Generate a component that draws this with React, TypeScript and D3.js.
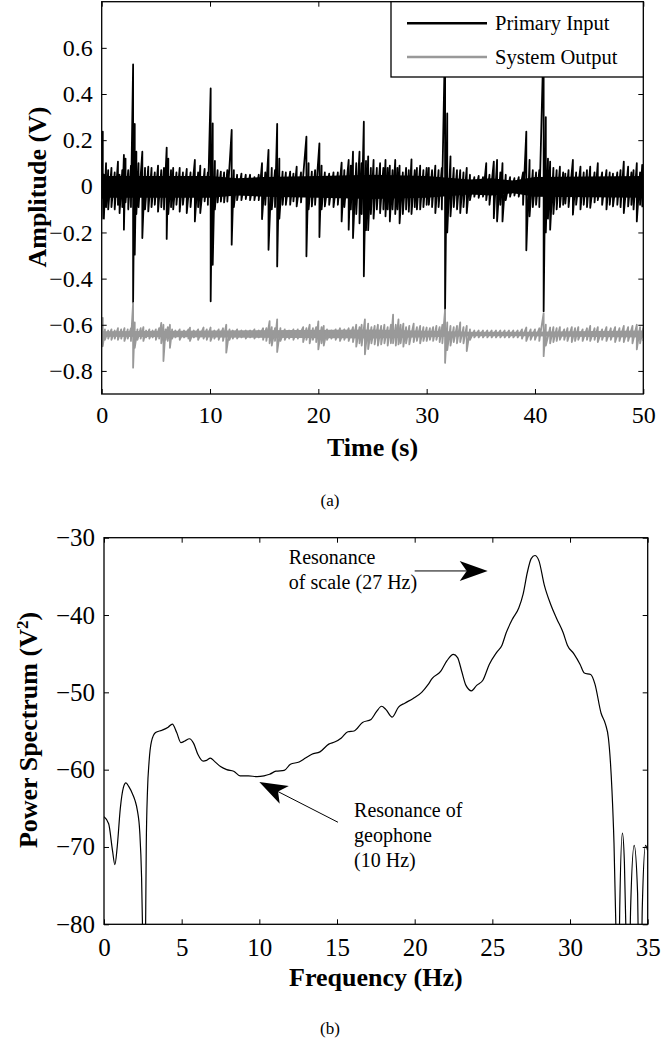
import React, { useRef, useEffect } from "react";
import * as d3 from "d3";

// ---------- panel (a): time series ----------
// each entry: [time (s), upper excursion (V), lower excursion (V)]
const primaryInput: [number, number, number][] = [
  [0.0, 0.1, -0.14], [0.1, 0.237, -0.05], [0.2, 0.05, -0.14], [0.4, 0.1, -0.09],
  [0.6, 0.07, -0.1], [0.9, 0.08, -0.09], [1.2, 0.06, -0.1], [1.5, 0.107, -0.08],
  [1.65, 0.05, -0.116], [1.9, 0.07, -0.09], [2.05, 0.136, -0.188], [2.2, 0.12, -0.07],
  [2.45, 0.07, -0.1], [2.7, 0.09, -0.09], [2.9, 0.528, -0.505], [3.05, 0.27, -0.296],
  [3.2, 0.15, -0.12], [3.4, 0.1, -0.09], [3.75, 0.15, -0.224], [4.0, 0.08, -0.1],
  [4.3, 0.085, -0.109], [4.6, 0.08, -0.09], [4.9, 0.06, -0.08], [5.2, 0.09, -0.11],
  [5.5, 0.07, -0.09], [5.75, 0.08, -0.1], [6.0, 0.168, -0.228], [6.15, 0.12, -0.12],
  [6.4, 0.07, -0.09], [6.6, 0.08, -0.1], [6.9, 0.06, -0.08], [7.2, 0.08, -0.11],
  [7.5, 0.06, -0.08], [7.85, 0.075, -0.116], [8.2, 0.06, -0.09], [8.6, 0.114, -0.152],
  [8.9, 0.06, -0.09], [9.1, 0.09, -0.116], [9.5, 0.075, -0.065], [9.8, 0.06, -0.08],
  [10.06, 0.424, -0.498], [10.25, 0.273, -0.34], [10.45, 0.11, -0.1], [10.7, 0.07, -0.07],
  [11.0, 0.064, -0.066], [11.3, 0.06, -0.07], [11.6, 0.07, -0.066], [12.0, 0.244, -0.253],
  [12.2, 0.07, -0.09], [12.5, 0.05, -0.06], [12.9, 0.055, -0.06], [13.3, 0.05, -0.055],
  [13.7, 0.05, -0.06], [14.1, 0.04, -0.06], [14.5, 0.05, -0.06], [14.8, 0.1, -0.142],
  [15.1, 0.06, -0.08], [15.4, 0.158, -0.275], [15.7, 0.08, -0.1], [16.0, 0.07, -0.09],
  [16.2, 0.27, -0.347], [16.4, 0.12, -0.14], [16.7, 0.064, -0.08], [17.0, 0.06, -0.08],
  [17.4, 0.064, -0.08], [17.7, 0.055, -0.065], [18.0, 0.085, -0.087], [18.4, 0.06, -0.07],
  [18.9, 0.215, -0.303], [19.1, 0.1, -0.1], [19.4, 0.064, -0.087], [19.7, 0.07, -0.08],
  [20.1, 0.186, -0.22], [20.3, 0.09, -0.1], [20.6, 0.06, -0.087], [21.0, 0.055, -0.08],
  [21.4, 0.06, -0.09], [21.8, 0.06, -0.08], [22.15, 0.103, -0.152], [22.4, 0.07, -0.09],
  [22.8, 0.114, -0.188], [23.0, 0.09, -0.1], [23.2, 0.15, -0.224], [23.5, 0.1, -0.12],
  [23.8, 0.15, -0.16], [24.0, 0.1, -0.12], [24.2, 0.28, -0.39], [24.4, 0.11, -0.19],
  [24.6, 0.13, -0.19], [24.85, 0.08, -0.12], [25.1, 0.114, -0.14], [25.4, 0.08, -0.1],
  [25.7, 0.1, -0.116], [26.0, 0.08, -0.1], [26.2, 0.114, -0.13], [26.4, 0.08, -0.1],
  [26.6, 0.09, -0.152], [26.85, 0.07, -0.1], [27.1, 0.114, -0.12], [27.3, 0.08, -0.1],
  [27.5, 0.09, -0.16], [27.8, 0.06, -0.12], [28.1, 0.08, -0.1], [28.35, 0.07, -0.11],
  [28.6, 0.117, -0.12], [28.9, 0.07, -0.09], [29.1, 0.08, -0.1], [29.4, 0.09, -0.1],
  [29.7, 0.07, -0.09], [30.0, 0.08, -0.08], [30.2, 0.08, -0.08], [30.5, 0.07, -0.09],
  [30.8, 0.09, -0.116], [31.1, 0.07, -0.09], [31.4, 0.08, -0.1], [31.7, 0.65, -0.534],
  [31.9, 0.316, -0.2], [32.2, 0.13, -0.13], [32.5, 0.08, -0.09], [32.8, 0.07, -0.1],
  [33.1, 0.07, -0.116], [33.4, 0.06, -0.09], [33.7, 0.08, -0.116], [34.0, 0.05, -0.06],
  [34.4, 0.04, -0.045], [34.8, 0.045, -0.05], [35.2, 0.04, -0.045], [35.5, 0.1, -0.06],
  [35.8, 0.05, -0.08], [36.2, 0.107, -0.138], [36.5, 0.114, -0.152], [36.8, 0.06, -0.08],
  [37.0, 0.1, -0.152], [37.3, 0.05, -0.06], [37.7, 0.04, -0.045], [38.1, 0.035, -0.04],
  [38.5, 0.04, -0.045], [38.9, 0.06, -0.08], [39.2, 0.237, -0.277], [39.5, 0.114, -0.13],
  [39.8, 0.07, -0.09], [40.1, 0.06, -0.08], [40.4, 0.07, -0.09], [40.8, 0.65, -0.541],
  [41.0, 0.3, -0.2], [41.2, 0.12, -0.14], [41.4, 0.107, -0.188], [41.7, 0.08, -0.12],
  [42.0, 0.07, -0.1], [42.3, 0.085, -0.09], [42.6, 0.06, -0.08], [42.8, 0.055, -0.075],
  [43.1, 0.07, -0.09], [43.5, 0.114, -0.123], [43.8, 0.06, -0.08], [44.2, 0.085, -0.1],
  [44.5, 0.06, -0.08], [44.8, 0.07, -0.09], [45.1, 0.085, -0.093], [45.5, 0.06, -0.07],
  [45.8, 0.1, -0.06], [46.2, 0.06, -0.08], [46.6, 0.07, -0.1], [46.9, 0.06, -0.08],
  [47.2, 0.055, -0.087], [47.6, 0.06, -0.08], [47.9, 0.07, -0.09], [48.2, 0.107, -0.116],
  [48.6, 0.085, -0.087], [48.9, 0.06, -0.08], [49.1, 0.07, -0.1], [49.4, 0.1, -0.152],
  [49.7, 0.06, -0.08], [49.9, 0.093, -0.087], [50.0, 0.05, -0.06],
];

const systemOutput: [number, number, number][] = [
  [0.0, -0.6, -0.69], [0.1, -0.57, -0.693], [0.3, -0.62, -0.665], [0.6, -0.625, -0.66],
  [0.9, -0.62, -0.665], [1.2, -0.625, -0.66], [1.5, -0.615, -0.665], [1.8, -0.62, -0.66],
  [2.1, -0.615, -0.67], [2.4, -0.62, -0.66], [2.7, -0.615, -0.67], [2.9, -0.505, -0.786],
  [3.05, -0.59, -0.7], [3.3, -0.62, -0.665], [3.6, -0.615, -0.66], [3.85, -0.61, -0.67],
  [4.1, -0.625, -0.655], [4.4, -0.62, -0.66], [4.7, -0.625, -0.655], [5.0, -0.62, -0.665],
  [5.3, -0.615, -0.66], [5.5, -0.592, -0.68], [5.7, -0.6, -0.757], [5.9, -0.62, -0.665],
  [6.1, -0.61, -0.67], [6.3, -0.6, -0.7], [6.5, -0.62, -0.66], [6.8, -0.625, -0.655],
  [7.2, -0.62, -0.665], [7.6, -0.625, -0.655], [8.0, -0.62, -0.66], [8.15, -0.612, -0.67],
  [8.5, -0.625, -0.655], [8.9, -0.62, -0.665], [9.4, -0.612, -0.66], [9.7, -0.62, -0.665],
  [10.05, -0.612, -0.67], [10.4, -0.625, -0.66], [10.8, -0.62, -0.665], [11.2, -0.615, -0.67],
  [11.5, -0.6, -0.721], [11.8, -0.62, -0.665], [12.1, -0.625, -0.66], [12.5, -0.62, -0.66],
  [12.9, -0.625, -0.655], [13.3, -0.625, -0.66], [13.7, -0.625, -0.655], [14.1, -0.62, -0.66],
  [14.5, -0.625, -0.655], [14.9, -0.615, -0.665], [15.2, -0.615, -0.67], [15.5, -0.584, -0.68],
  [15.7, -0.61, -0.69], [16.0, -0.615, -0.67], [16.2, -0.577, -0.718], [16.5, -0.615, -0.67],
  [16.9, -0.62, -0.665], [17.3, -0.625, -0.66], [17.7, -0.62, -0.665], [18.1, -0.62, -0.66],
  [18.6, -0.61, -0.675], [18.9, -0.615, -0.665], [19.2, -0.6, -0.68], [19.5, -0.615, -0.665],
  [19.8, -0.61, -0.675], [20.0, -0.585, -0.707], [20.3, -0.61, -0.68], [20.5, -0.605, -0.69],
  [20.8, -0.62, -0.665], [21.2, -0.625, -0.66], [21.6, -0.62, -0.665], [22.0, -0.615, -0.67],
  [22.4, -0.62, -0.665], [22.8, -0.615, -0.67], [23.2, -0.61, -0.675], [23.5, -0.6, -0.695],
  [23.8, -0.61, -0.68], [24.0, -0.6, -0.69], [24.3, -0.577, -0.728], [24.6, -0.595, -0.705],
  [24.9, -0.61, -0.68], [25.2, -0.605, -0.685], [25.5, -0.6, -0.69], [25.8, -0.605, -0.685],
  [26.1, -0.6, -0.68], [26.4, -0.61, -0.69], [26.7, -0.6, -0.68], [26.9, -0.556, -0.68],
  [27.15, -0.6, -0.69], [27.4, -0.577, -0.685], [27.6, -0.6, -0.68], [27.85, -0.595, -0.695],
  [28.1, -0.61, -0.68], [28.4, -0.605, -0.685], [28.8, -0.595, -0.675], [29.1, -0.61, -0.67],
  [29.4, -0.605, -0.68], [29.7, -0.61, -0.67], [30.0, -0.612, -0.67], [30.3, -0.615, -0.665],
  [30.6, -0.61, -0.67], [30.9, -0.605, -0.665], [31.2, -0.61, -0.675], [31.45, -0.6, -0.68],
  [31.7, -0.534, -0.765], [31.9, -0.59, -0.71], [32.2, -0.605, -0.69], [32.5, -0.61, -0.675],
  [32.8, -0.605, -0.68], [33.1, -0.59, -0.675], [33.4, -0.61, -0.68], [33.7, -0.605, -0.714],
  [34.0, -0.62, -0.665], [34.4, -0.625, -0.655], [34.8, -0.625, -0.655], [35.2, -0.625, -0.655],
  [35.6, -0.625, -0.655], [36.0, -0.625, -0.655], [36.4, -0.625, -0.655], [36.8, -0.625, -0.655],
  [37.2, -0.625, -0.655], [37.6, -0.625, -0.655], [38.0, -0.625, -0.655], [38.4, -0.625, -0.655],
  [38.8, -0.62, -0.66], [39.2, -0.612, -0.67], [39.6, -0.62, -0.665], [40.0, -0.62, -0.665],
  [40.4, -0.615, -0.67], [40.8, -0.55, -0.736], [41.0, -0.6, -0.69], [41.4, -0.612, -0.68],
  [41.7, -0.61, -0.675], [42.0, -0.615, -0.67], [42.3, -0.61, -0.665], [42.7, -0.62, -0.665],
  [43.0, -0.615, -0.67], [43.4, -0.61, -0.675], [43.7, -0.615, -0.67], [44.0, -0.61, -0.665],
  [44.4, -0.62, -0.67], [44.8, -0.615, -0.665], [45.1, -0.605, -0.67], [45.5, -0.615, -0.665],
  [45.8, -0.61, -0.675], [46.2, -0.62, -0.665], [46.6, -0.61, -0.67], [47.0, -0.615, -0.665],
  [47.4, -0.61, -0.675], [47.8, -0.615, -0.67], [48.2, -0.605, -0.675], [48.6, -0.61, -0.67],
  [49.0, -0.605, -0.68], [49.4, -0.6, -0.707], [49.7, -0.61, -0.68], [50.0, -0.615, -0.67],
];

// solid core of each trace: [time, top, bottom]
const primaryCore: [number, number, number][] = [
  [0, 0.045, -0.05], [10, 0.045, -0.05], [12.5, 0.035, -0.04], [15, 0.04, -0.045],
  [20, 0.045, -0.05], [25, 0.05, -0.055], [30, 0.045, -0.05], [34, 0.03, -0.035],
  [36, 0.035, -0.04], [38, 0.025, -0.03], [40, 0.04, -0.045], [50, 0.045, -0.05],
];
const outputCore: [number, number, number][] = [
  [0, -0.628, -0.652], [25, -0.62, -0.66], [34, -0.63, -0.65], [39, -0.63, -0.65], [50, -0.625, -0.655],
];

const timeTicks = [0, 10, 20, 30, 40, 50];
const amplitudeTicks = [-0.8, -0.6, -0.4, -0.2, 0, 0.2, 0.4, 0.6];
const legendLabels = ["Primary Input", "System Output"];

// ---------- panel (b): power spectrum [Hz, dB] ----------
const spectrum: [number, number][] = [
  [0, -66.1], [0.3, -67], [0.55, -70.5], [0.7, -72.3], [0.85, -70], [1.05, -65], [1.25, -62.3],
  [1.41, -61.7], [1.6, -62.2], [1.85, -63.2], [2.0, -64], [2.15, -65.3], [2.3, -68], [2.42, -74],
  [2.52, -85], [2.6, -95], [2.66, -85], [2.72, -70], [2.8, -62.7], [2.9, -59], [3.05, -56.4],
  [3.32, -55.2], [3.73, -54.9], [4.13, -54.5], [4.4, -54.1], [4.68, -55.2], [4.95, -56.5],
  [5.2, -56.3], [5.5, -56.0], [5.77, -56.6], [6.04, -58], [6.39, -58.9], [6.6, -58.8],
  [6.85, -58.5], [7.1, -58.9], [7.5, -59.6], [7.9, -60], [8.35, -60.2], [8.76, -60.8],
  [9.3, -60.8], [9.85, -60.9], [10.3, -60.8], [10.66, -60.6], [11.07, -60.2], [11.6, -60.1],
  [12.0, -59.3], [12.56, -59], [12.97, -58.5], [13.38, -58], [13.9, -57.7], [14.47, -56.7],
  [14.88, -56.4], [15.28, -55.9], [15.7, -55.1], [16.1, -55], [16.64, -53.9], [17.19, -53.5],
  [17.54, -52.5], [17.87, -51.8], [18.14, -52.2], [18.55, -53.2], [18.96, -51.9], [19.36, -51.4],
  [19.9, -50.8], [20.45, -50], [20.86, -49], [21.13, -48.2], [21.67, -47.3], [22.08, -45.9],
  [22.49, -45.1], [22.76, -45.5], [23.03, -47.3], [23.3, -49.1], [23.66, -49.8], [23.99, -49.1],
  [24.4, -48.4], [24.8, -46.4], [25.29, -44.8], [25.62, -43.9], [25.89, -42.3], [26.3, -40.5],
  [26.7, -39.1], [26.98, -37.3], [27.25, -34.5], [27.5, -32.7], [27.74, -32.3], [28.0, -33],
  [28.34, -36.1], [28.75, -38.6], [29.15, -40.5], [29.56, -42.3], [29.83, -43.9], [30.24, -45],
  [30.65, -46.4], [30.92, -47.5], [31.33, -47.7], [31.6, -48.9], [32.0, -52.7], [32.28, -54.1],
  [32.47, -55.9], [32.6, -59], [32.7, -62.7], [32.83, -69.5], [33.0, -85], [33.1, -95],
  [33.2, -78], [33.37, -68.2], [33.5, -72], [33.64, -85], [33.75, -95], [33.9, -78],
  [34.13, -69.8], [34.35, -76], [34.45, -90], [34.55, -95], [34.65, -78], [34.86, -69.8],
  [35.0, -70.5],
];
const freqTicks = [0, 5, 10, 15, 20, 25, 30, 35];
const powerTicks = [-80, -70, -60, -50, -40, -30];

const FONT = "'Liberation Serif', 'Times New Roman', serif";

const Figure = () => {
  const svgRef = useRef<SVGSVGElement>(null);

  useEffect(() => {
    const svg = d3.select(svgRef.current);
    svg.selectAll("*").remove();

    // ---------------- panel (a) ----------------
    const a = { left: 101.7, right: 643.3, top: 1.7, bottom: 394 };
    const xA = d3.scaleLinear().domain([0, 50]).range([a.left, a.right]);
    const yA = d3.scaleLinear().domain([-0.9, 0.8]).range([a.bottom, a.top]);

    svg.append("clipPath").attr("id", "clipA")
      .append("rect").attr("x", a.left).attr("y", a.top)
      .attr("width", a.right - a.left).attr("height", a.bottom - a.top);

    const plotA = svg.append("g").attr("clip-path", "url(#clipA)");

    const core = d3.area<[number, number, number]>()
      .x((d) => xA(d[0])).y0((d) => yA(d[2])).y1((d) => yA(d[1]));
    // trace goes through each sample's upper then lower excursion
    const trace = (rows: [number, number, number][]) =>
      rows.flatMap((r) => [[r[0], r[1]], [r[0], r[2]]] as [number, number][]);
    const line = d3.line<[number, number]>().x((d) => xA(d[0])).y((d) => yA(d[1]));

    plotA.append("path").attr("d", core(primaryCore)).attr("fill", "#000");
    plotA.append("path").attr("d", line(trace(primaryInput)))
      .attr("fill", "none").attr("stroke", "#000").attr("stroke-width", 1.8)
      .attr("stroke-linejoin", "round");
    plotA.append("path").attr("d", core(outputCore)).attr("fill", "#999");
    plotA.append("path").attr("d", line(trace(systemOutput)))
      .attr("fill", "none").attr("stroke", "#999").attr("stroke-width", 1.8)
      .attr("stroke-linejoin", "round");

    const fmtA = (d: number) => (d === 0 ? "0" : d3.format(".1f")(d));
    const styleAxis = (g: any, size: number) => {
      g.select(".domain").remove();
      g.selectAll("line").attr("stroke", "#000").attr("stroke-width", 1);
      g.selectAll("text").attr("font-family", FONT).attr("font-size", size).attr("fill", "#000");
    };

    svg.append("g").attr("transform", `translate(${a.left},0)`)
      .call(d3.axisLeft(yA).tickValues(amplitudeTicks).tickSize(-5).tickPadding(9).tickFormat(fmtA as any))
      .call((g: any) => styleAxis(g, 24));
    svg.append("g").attr("transform", `translate(${a.right},0)`)
      .call(d3.axisRight(yA).tickValues(amplitudeTicks).tickSize(-5).tickFormat(() => ""))
      .call((g: any) => styleAxis(g, 24));
    svg.append("g").attr("transform", `translate(0,${a.bottom})`)
      .call(d3.axisBottom(xA).tickValues(timeTicks).tickSize(-5).tickPadding(12).tickFormat(d3.format("d") as any))
      .call((g: any) => styleAxis(g, 24));
    svg.append("g").attr("transform", `translate(0,${a.top})`)
      .call(d3.axisTop(xA).tickValues(timeTicks).tickSize(-5).tickFormat(() => ""))
      .call((g: any) => styleAxis(g, 24));

    svg.append("rect").attr("x", a.left).attr("y", a.top)
      .attr("width", a.right - a.left).attr("height", a.bottom - a.top)
      .attr("fill", "none").attr("stroke", "#000").attr("stroke-width", 1.3);

    // legend
    const leg = svg.append("g");
    leg.append("rect").attr("x", 391).attr("y", a.top)
      .attr("width", a.right - 391).attr("height", 77 - a.top)
      .attr("fill", "#fff").attr("stroke", "#000").attr("stroke-width", 1.3);
    const legColors = ["#000", "#999"];
    legendLabels.forEach((lab, i) => {
      const cy = 23.3 + i * 33.6;
      leg.append("line").attr("x1", 407).attr("x2", 487).attr("y1", cy).attr("y2", cy)
        .attr("stroke", legColors[i]).attr("stroke-width", 2.5);
      leg.append("text").attr("x", 495).attr("y", cy).attr("dy", "0.35em")
        .attr("font-family", FONT).attr("font-size", 20.5).text(lab);
    });

    svg.append("text").attr("x", (a.left + a.right) / 2).attr("y", 456)
      .attr("text-anchor", "middle").attr("font-family", FONT).attr("font-weight", "bold")
      .attr("font-size", 26).text("Time (s)");
    svg.append("text").attr("transform", "translate(37,187) rotate(-90)")
      .attr("dy", "0.35em").attr("text-anchor", "middle").attr("font-family", FONT)
      .attr("font-weight", "bold").attr("font-size", 26).text("Amplitude (V)");
    svg.append("text").attr("x", 330).attr("y", 506).attr("text-anchor", "middle")
      .attr("font-family", FONT).attr("font-size", 17).text("(a)");

    // ---------------- panel (b) ----------------
    const b = { left: 104, right: 647.7, top: 537.7, bottom: 924.3 };
    const xB = d3.scaleLinear().domain([0, 35]).range([b.left, b.right]);
    const yB = d3.scaleLinear().domain([-80, -30]).range([b.bottom, b.top]);

    svg.append("clipPath").attr("id", "clipB")
      .append("rect").attr("x", b.left).attr("y", b.top)
      .attr("width", b.right - b.left).attr("height", b.bottom - b.top);

    svg.append("g").attr("clip-path", "url(#clipB)")
      .append("path")
      .attr("d", d3.line<[number, number]>().x((d) => xB(d[0])).y((d) => yB(d[1]))
        .curve(d3.curveMonotoneX)(spectrum))
      .attr("fill", "none").attr("stroke", "#000").attr("stroke-width", 1.2);

    svg.append("g").attr("transform", `translate(${b.left},0)`)
      .call(d3.axisLeft(yB).tickValues(powerTicks).tickSize(-5).tickPadding(9).tickFormat(d3.format("d") as any))
      .call((g: any) => styleAxis(g, 25));
    svg.append("g").attr("transform", `translate(${b.right},0)`)
      .call(d3.axisRight(yB).tickValues(powerTicks).tickSize(-5).tickFormat(() => ""))
      .call((g: any) => styleAxis(g, 25));
    svg.append("g").attr("transform", `translate(0,${b.bottom})`)
      .call(d3.axisBottom(xB).tickValues(freqTicks).tickSize(-5).tickPadding(14).tickFormat(d3.format("d") as any))
      .call((g: any) => styleAxis(g, 25));
    svg.append("g").attr("transform", `translate(0,${b.top})`)
      .call(d3.axisTop(xB).tickValues(freqTicks).tickSize(-5).tickFormat(() => ""))
      .call((g: any) => styleAxis(g, 25));

    svg.append("rect").attr("x", b.left).attr("y", b.top)
      .attr("width", b.right - b.left).attr("height", b.bottom - b.top)
      .attr("fill", "none").attr("stroke", "#000").attr("stroke-width", 1.3);

    // annotations
    const arrow = (x1: number, y1: number, x2: number, y2: number) => {
      const ang = Math.atan2(y2 - y1, x2 - x1);
      const L = 28, W = 10, notch = 7;
      const pt = (back: number, side: number) => [
        x2 - back * Math.cos(ang) - side * Math.sin(ang),
        y2 - back * Math.sin(ang) + side * Math.cos(ang),
      ];
      svg.append("line").attr("x1", x1).attr("y1", y1)
        .attr("x2", pt(L - notch, 0)[0]).attr("y2", pt(L - notch, 0)[1])
        .attr("stroke", "#000").attr("stroke-width", 1);
      const head = [[x2, y2], pt(L, W), pt(L - notch, 0), pt(L, -W)];
      svg.append("path").attr("d", "M" + head.map((p) => p.join(",")).join("L") + "Z").attr("fill", "#000");
    };
    arrow(xB(20.0), yB(-34.3), xB(24.7), yB(-34.3));
    arrow(xB(15.06), yB(-66.8), xB(10.0), yB(-61.6));

    const note = (x: number, y: number, lines: string[]) => {
      lines.forEach((s, i) => {
        svg.append("text").attr("x", x).attr("y", y + i * 24.6).attr("dy", "0.35em")
          .attr("font-family", FONT).attr("font-size", 20).text(s);
      });
    };
    note(xB(11.9), yB(-32.5), ["Resonance", "of scale (27 Hz)"]);
    note(xB(16.1), yB(-65.28), ["Resonance of", "geophone", "(10 Hz)"]);

    svg.append("text").attr("x", (b.left + b.right) / 2).attr("y", 986)
      .attr("text-anchor", "middle").attr("font-family", FONT).attr("font-weight", "bold")
      .attr("font-size", 26).text("Frequency (Hz)");
    const yl = svg.append("text").attr("transform", "translate(27.5,730) rotate(-90)")
      .attr("dy", "0.35em").attr("text-anchor", "middle").attr("font-family", FONT)
      .attr("font-weight", "bold").attr("font-size", 26);
    yl.append("tspan").text("Power Spectrum (V");
    yl.append("tspan").attr("baseline-shift", "super").attr("font-size", 17).text("2");
    yl.append("tspan").text(")");
    svg.append("text").attr("x", 330).attr("y", 1034).attr("text-anchor", "middle")
      .attr("font-family", FONT).attr("font-size", 17).text("(b)");
  }, []);

  return (
    <svg ref={svgRef} width={661} height={1044}
      style={{ position: "absolute", left: 0, top: 0, background: "#fff" }} />
  );
};

export default function App() {
  return <Figure />;
}
